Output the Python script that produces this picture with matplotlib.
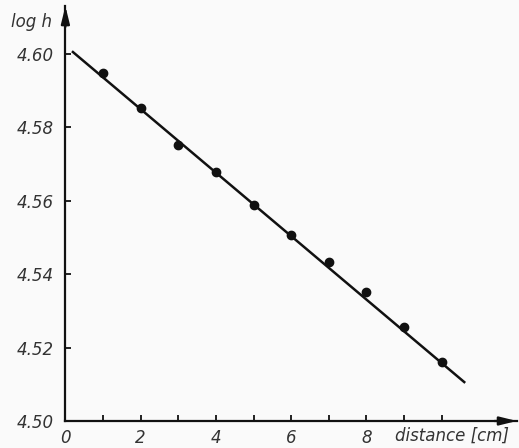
import matplotlib
matplotlib.use("Agg")
import matplotlib.pyplot as plt

# data
distance = [1, 2, 3, 4, 5, 6, 7, 8, 9, 10]
log_h = [4.5948, 4.5852, 4.5751, 4.5678, 4.5588, 4.5506, 4.5433, 4.5352, 4.5257, 4.5161]
fit_x = [0.2, 10.6]
fit_y = [4.6005, 4.5106]
xticks = [0, 2, 4, 6, 8]
yticks = [4.50, 4.52, 4.54, 4.56, 4.58, 4.60]
ytick_labels = ["4.50", "4.52", "4.54", "4.56", "4.58", "4.60"]

plt.rcParams['font.family'] = ['DejaVu Sans']
fig = plt.figure(figsize=(5.19, 4.48), dpi=100)
fig.patch.set_facecolor('#fafafa')
ax = fig.add_axes([0.1260, 0.0603, 0.8700, 0.926])
ax.set_facecolor('#fafafa')

ax.plot(fit_x, fit_y, color='#111111', lw=1.8, zorder=2)
ax.plot(distance, log_h, 'o', color='#111111', ms=6, zorder=3)

ax.set_xlim(0, 12.0)
ax.set_ylim(4.50, 4.613)
for s in ['top', 'right']:
    ax.spines[s].set_visible(False)
for s in ['left', 'bottom']:
    ax.spines[s].set_linewidth(1.6)
    ax.spines[s].set_color('#111111')

ax.set_xticks(list(range(0, 11)))
ax.set_xticklabels([str(v) if v in xticks else '' for v in range(0, 11)])
ax.set_yticks(yticks)
ax.set_yticklabels(ytick_labels)
ax.tick_params(direction='in', length=4, width=1.3, colors='#111111',
               labelsize=12)
ax.tick_params(axis='x', pad=6)
ax.tick_params(axis='y', pad=8)
for lab in ax.get_xticklabels() + ax.get_yticklabels():
    lab.set_fontstyle('italic')
    lab.set_color('#333333')

# arrows
astyle = '-|>,head_length=0.65,head_width=0.16'
ax.annotate('', xy=(1.0, 0), xytext=(0.95, 0), xycoords='axes fraction',
            arrowprops=dict(arrowstyle=astyle, color='#111111', lw=1.6,
                            mutation_scale=16, shrinkA=0, shrinkB=0),
            annotation_clip=False)
ax.annotate('', xy=(0, 1.0), xytext=(0, 0.95), xycoords='axes fraction',
            arrowprops=dict(arrowstyle=astyle, color='#111111', lw=1.6,
                            mutation_scale=16, shrinkA=0, shrinkB=0),
            annotation_clip=False)

fig.text(0.022, 0.952, 'log h', fontsize=12, fontstyle='italic', color='#333333',
         ha='left', va='center')
fig.text(0.98, 0.028, 'distance [cm]', fontsize=12, fontstyle='italic',
         color='#333333', ha='right', va='center')

fig.savefig('out.png', dpi=100, facecolor=fig.get_facecolor())
